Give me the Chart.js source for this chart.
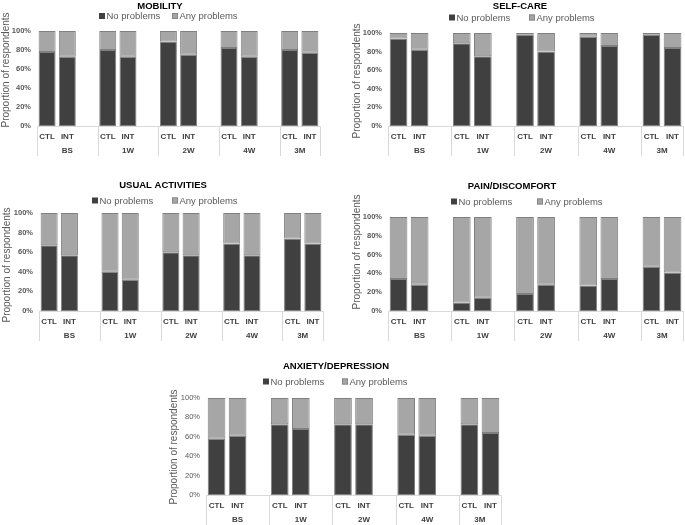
<!DOCTYPE html>
<html><head><meta charset="utf-8">
<script src="https://cdn.jsdelivr.net/npm/chart.js@4.4.0/dist/chart.umd.min.js"></script>
<style>
html,body{margin:0;padding:0;background:#fff;}
#wrap{position:relative;width:685px;height:525px;overflow:hidden;background:#fff;}
#wrap canvas{position:absolute;left:0;top:0;}
</style></head><body>
<div id="wrap">
<canvas id="c1" width="685" height="525"></canvas>
<canvas id="c2" width="685" height="525"></canvas>
<canvas id="c3" width="685" height="525"></canvas>
<canvas id="c4" width="685" height="525"></canvas>
<canvas id="c5" width="685" height="525"></canvas>
</div>
<script>
// ---- data ----
const timepoints = ['BS', '1W', '2W', '4W', '3M'];
const arms = ['CTL', 'INT'];
const seriesNames = ['No problems', 'Any problems'];
const yTicks = [0, 20, 40, 60, 80, 100];

// order: CTL BS, INT BS, CTL 1W, INT 1W, CTL 2W, INT 2W, CTL 4W, INT 4W, CTL 3M, INT 3M
const mobilityNo  = [78, 73, 80, 73, 89, 75, 82, 73, 80, 77];
const mobilityAny = [22, 27, 20, 27, 11, 25, 18, 27, 20, 23];
const selfcareNo  = [94, 82, 89, 75, 98, 80, 96, 86, 98, 84];
const selfcareAny = [6, 18, 11, 25, 2, 20, 4, 14, 2, 16];
const usualNo     = [67, 57, 40, 32, 60, 57, 69, 57, 74, 69];
const usualAny    = [33, 43, 60, 68, 40, 43, 31, 43, 26, 31];
const painNo      = [34, 28, 9, 14, 18, 28, 27, 34, 47, 41];
const painAny     = [66, 72, 91, 86, 82, 72, 73, 66, 53, 59];
const anxietyNo   = [58, 61, 73, 68, 73, 73, 62, 61, 73, 64];
const anxietyAny  = [42, 39, 27, 32, 27, 27, 38, 39, 27, 36];

// ---- styles ----
const FONT = "'Liberation Sans', Arial, sans-serif";
const DARK = '#404040', LIGHT = '#a6a6a6', EDGE = '#808080';

// build slot labels (blank slot between timepoint groups)
const slotLabels = [];
const groupRanges = [];
const slotIndex = []; // value index -> slot
timepoints.forEach((tp, g) => {
  const start = slotLabels.length;
  arms.forEach((a, k) => { slotIndex.push(slotLabels.length); slotLabels.push(a); });
  if (g < timepoints.length - 1) slotLabels.push('');
  groupRanges.push({ label: tp, start: start, end: slotLabels.length });
});
function toSlots(vals) {
  const out = slotLabels.map(() => null);
  vals.forEach((v, i) => { out[slotIndex[i]] = v; });
  return out;
}

const panels = [
  { id: 'c1', title: 'MOBILITY', no: mobilityNo, any: mobilityAny, boldTicks: true,
    plot: { l: 37, t: 31, r: 320, b: 126 }, titlePos: [160, 6], legend: { x1: 99, x2: 172, y: 16 }, yTitle: [6, 70] },
  { id: 'c2', title: 'SELF-CARE', no: selfcareNo, any: selfcareAny, boldTicks: true,
    plot: { l: 388, t: 33, r: 685, b: 126 }, titlePos: [520, 6], legend: { x1: 449, x2: 529, y: 17.5 }, yTitle: [357, 81] },
  { id: 'c3', title: 'USUAL ACTIVITIES', no: usualNo, any: usualAny, boldTicks: true,
    plot: { l: 39, t: 213, r: 323, b: 311 }, titlePos: [163, 185], legend: { x1: 92, x2: 172, y: 200.5 }, yTitle: [7, 265] },
  { id: 'c4', title: 'PAIN/DISCOMFORT', no: painNo, any: painAny, boldTicks: true,
    plot: { l: 388, t: 217, r: 685, b: 311 }, titlePos: [512, 186], legend: { x1: 451, x2: 537, y: 201.5 }, yTitle: [357, 252] },
  { id: 'c5', title: 'ANXIETY/DEPRESSION', no: anxietyNo, any: anxietyAny, boldTicks: false,
    plot: { l: 206, t: 398, r: 501, b: 495 }, titlePos: [336, 366], legend: { x1: 263, x2: 342, y: 381.5 }, yTitle: [174, 447] }
];

const Y_W = 30, X_H = 25;

const decorPlugin = {
  id: 'decor',
  afterDraw(chart, args, opts) {
    const ctx = chart.ctx;
    const xs = chart.scales.x;
    const area = chart.chartArea;
    ctx.save();
    // title
    ctx.fillStyle = '#000';
    ctx.font = 'bold 9.5px ' + FONT;
    ctx.textAlign = 'center';
    ctx.textBaseline = 'middle';
    ctx.fillText(opts.title, opts.titlePos[0], opts.titlePos[1]);
    // legend
    ctx.font = '9.5px ' + FONT;
    ctx.textAlign = 'left';
    const lx = [opts.legend.x1, opts.legend.x2];
    chart.data.datasets.forEach((ds, i) => {
      const x = lx[i], y = opts.legend.y;
      ctx.fillStyle = ds.backgroundColor;
      ctx.fillRect(x, y - 3, 6, 6);
      if (i === 1) { ctx.strokeStyle = EDGE; ctx.lineWidth = 0.8; ctx.strokeRect(x + 0.4, y - 2.6, 5.2, 5.2); }
      ctx.fillStyle = '#595959';
      ctx.fillText(ds.label, x + 7.5, y + 0.5);
    });
    // y axis title
    ctx.save();
    ctx.translate(opts.yTitle[0], opts.yTitle[1]);
    ctx.rotate(-Math.PI / 2);
    ctx.font = '10px ' + FONT;
    ctx.fillStyle = '#595959';
    ctx.textAlign = 'center';
    ctx.textBaseline = 'middle';
    ctx.fillText('Proportion of respondents', 0, 0);
    ctx.restore();
    // group separators + labels
    const slot = xs.getPixelForValue(1) - xs.getPixelForValue(0);
    ctx.strokeStyle = '#d9d9d9';
    ctx.lineWidth = 1;
    ctx.font = 'bold 8px ' + FONT;
    ctx.fillStyle = '#404040';
    ctx.textAlign = 'center';
    ctx.textBaseline = 'middle';
    const base = area.bottom;
    groupRanges.forEach((g, gi) => {
      const left = xs.getPixelForValue(g.start) - slot / 2;
      const right = xs.getPixelForValue(g.end - 1) + slot / 2;
      const lines = gi === groupRanges.length - 1 ? [left, right] : [left];
      lines.forEach(px => {
        const p = Math.round(px) + 0.5;
        ctx.beginPath(); ctx.moveTo(p, base); ctx.lineTo(p, base + 30); ctx.stroke();
      });
      ctx.fillText(g.label, (left + right) / 2, base + 24.5);
    });
    ctx.restore();
  }
};

panels.forEach(p => {
  new Chart(document.getElementById(p.id), {
    type: 'bar',
    data: {
      labels: slotLabels,
      datasets: [
        { label: seriesNames[0], data: toSlots(p.no), backgroundColor: DARK, borderColor: EDGE, borderWidth: 1, borderSkipped: false },
        { label: seriesNames[1], data: toSlots(p.any), backgroundColor: LIGHT, borderColor: EDGE, borderWidth: 1, borderSkipped: false }
      ]
    },
    options: {
      responsive: false,
      animation: false,
      devicePixelRatio: 1,
      categoryPercentage: 1,
      barPercentage: 0.84,
      layout: { padding: { left: p.plot.l - Y_W, top: p.plot.t, right: 685 - p.plot.r, bottom: 525 - p.plot.b - X_H } },
      plugins: {
        legend: { display: false },
        title: { display: false },
        tooltip: { enabled: false },
        decor: { title: p.title, titlePos: p.titlePos, legend: p.legend, yTitle: p.yTitle }
      },
      scales: {
        x: {
          stacked: true,
          offset: true,
          grid: { display: false, drawTicks: false },
          border: { display: true, color: '#d9d9d9', width: 1 },
          ticks: { autoSkip: false, maxRotation: 0, minRotation: 0, padding: 6, color: '#404040', font: { family: FONT, size: 8, weight: 'bold' } },
          afterFit(s) { s.height = X_H; }
        },
        y: {
          stacked: true,
          min: 0, max: 100,
          afterBuildTicks(s) { s.ticks = yTicks.map(v => ({ value: v })); },
          grid: { display: false, drawTicks: false },
          border: { display: false },
          ticks: { padding: 6, color: '#595959', callback: v => v + '%', font: { family: FONT, size: 7.5, weight: p.boldTicks ? 'bold' : 'normal' } },
          afterFit(s) { s.width = Y_W; }
        }
      }
    },
    plugins: [decorPlugin]
  });
});
</script>
</body></html>
